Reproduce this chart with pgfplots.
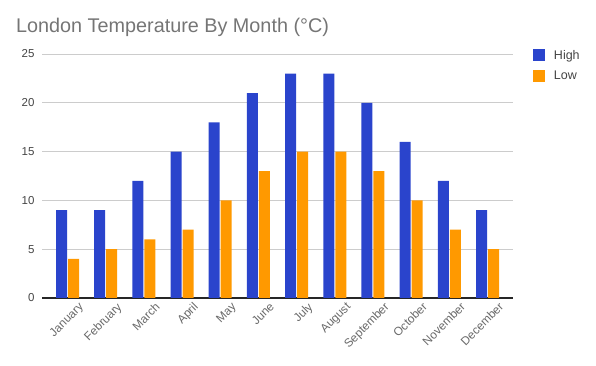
\documentclass[border=0pt]{standalone}
\usepackage{fontspec}
\setmainfont{Liberation Sans}
\usepackage{pgfplots}
\pgfplotsset{compat=1.18}
\definecolor{hiblue}{HTML}{2A44CC}
\definecolor{loorange}{HTML}{FF9900}
\definecolor{titlegray}{HTML}{757575}
\definecolor{tickgray}{HTML}{444444}
\definecolor{gridgray}{HTML}{CCCCCC}
\begin{document}
\begin{tikzpicture}[x=1pt,y=1pt]
\path[use as bounding box] (0,0) rectangle (596,366);
\node[anchor=base west, inner sep=0pt, text=titlegray, font=\fontsize{19.8}{22}\selectfont] at (16,333) {London Temperature By Month (°C)};
\begin{axis}[
  at={(42pt,68pt)}, anchor=south west,
  scale only axis, width=471pt, height=244pt,
  ybar=1pt, bar width=11pt,
  xmin=-0.668, xmax=11.668,
  ymin=0, ymax=25,
  ytick={0,5,10,15,20,25},
  xtick=data,
  xticklabels={January,February,March,April,May,June,July,August,September,October,November,December},
  x tick label style={rotate=45, anchor=north east, font=\fontsize{11.8}{13}\selectfont, text=tickgray!80, inner sep=1pt, yshift=-9pt, xshift=6pt},
  y tick label style={font=\fontsize{11.5}{13}\selectfont, text=tickgray, xshift=-4pt},
  /pgf/number format/assume math mode=true,
  major tick length=0pt,
  axis line style={draw=none},
  ymajorgrids, grid style={gridgray, line width=0.8pt},
  extra y ticks={0}, extra y tick labels={},
  extra y tick style={grid style={black!85, line width=1.1pt}},
  legend style={at={(1.042,1.02)}, anchor=north west, draw=none, fill=none, inner sep=0pt, row sep=9pt, font=\fontsize{12.5}{14}\selectfont, text=tickgray, nodes={inner sep=0pt, anchor=west}},
  legend cell align=left,
  legend image code/.code={\fill[#1,draw=none] (0pt,-6pt) rectangle (12pt,6pt);},
  /tikz/every even column/.append style={column sep=0pt},
]
\addplot[fill=hiblue, draw=none] coordinates {(0,9) (1,9) (2,12) (3,15) (4,18) (5,21) (6,23) (7,23) (8,20) (9,16) (10,12) (11,9)};
\addplot[fill=loorange, draw=none] coordinates {(0,4) (1,5) (2,6) (3,7) (4,10) (5,13) (6,15) (7,15) (8,13) (9,10) (10,7) (11,5)};
\legend{\hspace{9pt}High,\hspace{9pt}Low}
\end{axis}
\end{tikzpicture}
\end{document}
